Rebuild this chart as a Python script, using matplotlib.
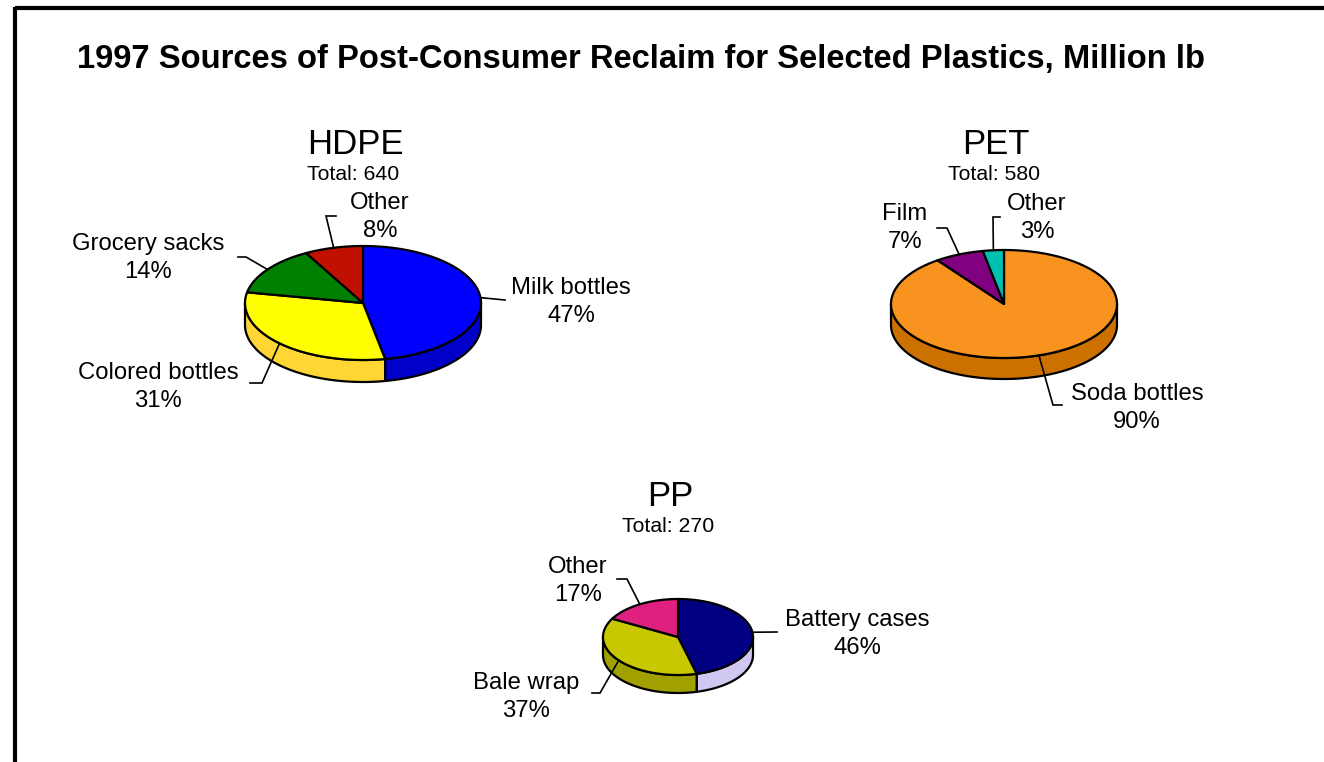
import numpy as np
import matplotlib
matplotlib.use("Agg")
import matplotlib.pyplot as plt
from matplotlib.patches import Polygon

plt.rcParams['font.family'] = ['Liberation Sans', 'DejaVu Sans']

# ---- data -------------------------------------------------------------
title = "1997 Sources of Post-Consumer Reclaim for Selected Plastics, Million lb"

hdpe_labels = ["Milk bottles", "Colored bottles", "Grocery sacks", "Other"]
hdpe_pct = [47, 31, 14, 8]
hdpe_total = 640

pet_labels = ["Soda bottles", "Film", "Other"]
pet_pct = [90, 7, 3]
pet_total = 580

pp_labels = ["Battery cases", "Bale wrap", "Other"]
pp_pct = [46, 37, 17]
pp_total = 270

# ---- styling ------------------------------------------------------------
hdpe_top = ["#0000FF", "#FFFF00", "#008000", "#C01000"]
hdpe_side = ["#0000C8", "#FFD633", "#006000", "#900C00"]
pet_top = ["#F7931E", "#800080", "#00C0B0"]
pet_side = ["#CC7000", "#600060", "#009088"]
pp_top = ["#000080", "#C8C800", "#E0207F"]
pp_side = ["#D0C8F0", "#A0A000", "#A81860"]

W, H = 1324, 762
fig = plt.figure(figsize=(W / 100, H / 100), dpi=100)
ax = fig.add_axes([0, 0, 1, 1])
ax.set_xlim(0, W)
ax.set_ylim(H, 0)
ax.axis("off")

EDGE = dict(edgecolor="black", linewidth=1.6, joinstyle="round")


def ell(cx, cy, rx, ry, th, dy=0.0):
    return np.column_stack([cx + rx * np.cos(th), cy - ry * np.sin(th) + dy])


def pie3d(cx, cy, rx, ry, depth, pct, tops, sides):
    fr = np.asarray(pct, float) / np.sum(pct)
    cum = np.concatenate([[0], np.cumsum(fr)])
    mids = []
    # side walls first
    for i in range(len(fr)):
        a_hi = np.pi / 2 - 2 * np.pi * cum[i]
        a_lo = np.pi / 2 - 2 * np.pi * cum[i + 1]
        th = np.linspace(a_lo, a_hi, 400)
        ks = np.arange(np.ceil(a_lo / np.pi), np.floor(a_hi / np.pi) + 1) * np.pi
        th = np.unique(np.concatenate([th, ks]))
        vis = np.sin(th) <= 1e-9
        idx = np.where(vis)[0]
        if len(idx) > 1:
            runs = np.split(idx, np.where(np.diff(idx) > 1)[0] + 1)
            for r in runs:
                if len(r) < 2:
                    continue
                t = th[r]
                top = ell(cx, cy, rx, ry, t)
                bot = ell(cx, cy, rx, ry, t[::-1], depth)
                ax.add_patch(Polygon(np.vstack([top, bot]), closed=True,
                                     facecolor=sides[i], zorder=1, **EDGE))
        mids.append(0.5 * (a_lo + a_hi))
    # top faces
    for i in range(len(fr)):
        a_hi = np.pi / 2 - 2 * np.pi * cum[i]
        a_lo = np.pi / 2 - 2 * np.pi * cum[i + 1]
        t = np.linspace(a_lo, a_hi, 300)
        pts = np.vstack([[cx, cy], ell(cx, cy, rx, ry, t)])
        ax.add_patch(Polygon(pts, closed=True, facecolor=tops[i], zorder=2, **EDGE))
    return [tuple(ell(cx, cy, rx, ry, np.array([m]))[0]) for m in mids]


def label(start, path, text_xy, name, pct):
    xs = [start[0]] + [p[0] for p in path]
    ys = [start[1]] + [p[1] for p in path]
    ax.plot(xs, ys, color="black", lw=1.2, zorder=3, solid_joinstyle="miter")
    ax.text(text_xy[0], text_xy[1], f"{name}\n{pct}%", ha="center", va="center",
            fontsize=17.2, linespacing=1.35, zorder=4)


def heading(x, y, name, total):
    ax.text(x, y, name, ha="center", va="center", fontsize=25)
    ax.text(x - 2, y + 30, f"Total: {total}", ha="center", va="center", fontsize=15.3)


# frame lines
ax.plot([15, W], [8, 8], color="black", lw=3, solid_capstyle="butt")
ax.plot([15, 15], [6.5, H], color="black", lw=3, solid_capstyle="butt")

ax.text(77, 68, title, ha="left", va="baseline", fontsize=23.55, fontweight="bold")

# HDPE
heading(355, 145, "HDPE", hdpe_total)
m = pie3d(363, 303, 118, 57, 22, hdpe_pct, hdpe_top, hdpe_side)
label(m[0], [(505, 300)], (571, 302), hdpe_labels[0], hdpe_pct[0])
label(m[1], [(262, 383), (250, 383)], (158, 387), hdpe_labels[1], hdpe_pct[1])
label(m[2], [(246, 257), (238, 257)], (148, 258), hdpe_labels[2], hdpe_pct[2])
label(m[3], [(326, 216), (336, 216)], (380, 217), hdpe_labels[3], hdpe_pct[3])

# PET
heading(996, 145, "PET", pet_total)
m = pie3d(1004, 304, 113, 54, 21, pet_pct, pet_top, pet_side)
label(m[0], [(1053, 405), (1062, 405)], (1137, 408), pet_labels[0], pet_pct[0])
label(m[1], [(947, 228), (937, 228)], (905, 228), pet_labels[1], pet_pct[1])
label(m[2], [(993, 217), (1000, 217)], (1037, 218), pet_labels[2], pet_pct[2])

# PP
heading(670, 496, "PP", pp_total)
m = pie3d(678, 637, 75, 38, 18, pp_pct, pp_top, pp_side)
label(m[0], [(777, 632)], (857, 634), pp_labels[0], pp_pct[0])
label(m[1], [(600, 693), (592, 693)], (526, 697), pp_labels[1], pp_pct[1])
label(m[2], [(627, 579), (617, 579)], (578, 581), pp_labels[2], pp_pct[2])

fig.savefig("out.png", dpi=100)
